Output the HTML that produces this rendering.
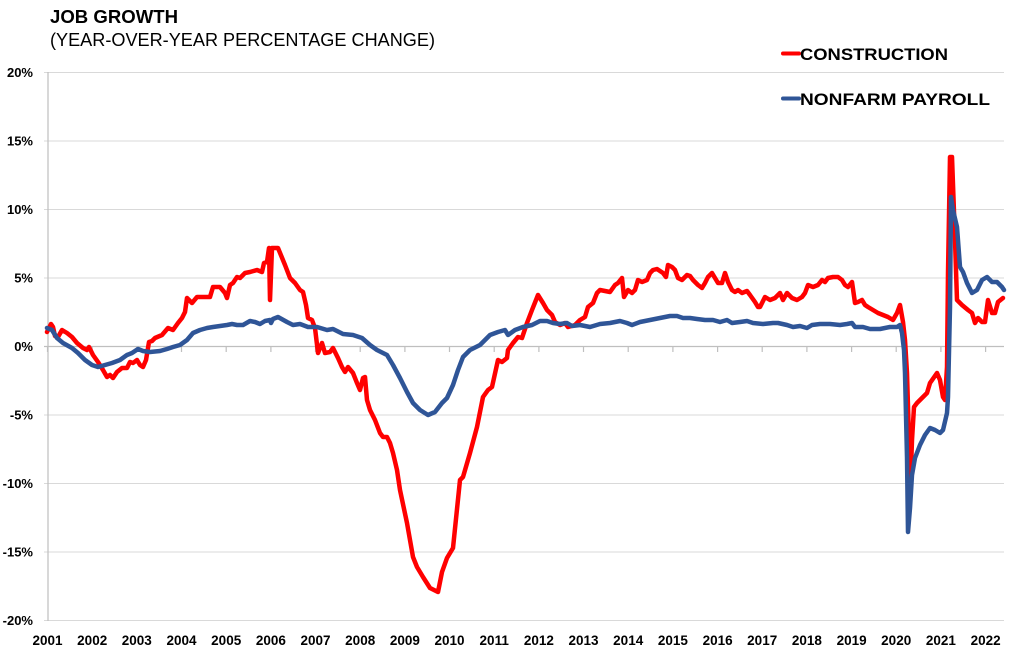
<!DOCTYPE html>
<html>
<head>
<meta charset="utf-8">
<style>
  html,body{margin:0;padding:0;background:#fff;}
  svg{display:block;}
  text{font-family:"Liberation Sans",sans-serif;fill:#000;}
</style>
</head>
<body>
<svg width="1024" height="663" viewBox="0 0 1024 663" xmlns="http://www.w3.org/2000/svg">
  <rect width="1024" height="663" fill="#fff"/>
  <!-- Titles -->
  <text x="50" y="23" font-size="18" font-weight="bold" textLength="128" lengthAdjust="spacingAndGlyphs">JOB GROWTH</text>
  <text x="50" y="46" font-size="18" textLength="385" lengthAdjust="spacingAndGlyphs">(YEAR-OVER-YEAR PERCENTAGE CHANGE)</text>

  <!-- Gridlines -->
  <g stroke="#D9D9D9" stroke-width="1">
    <line x1="44" y1="72.5" x2="1004" y2="72.5"/>
    <line x1="44" y1="141" x2="1004" y2="141"/>
    <line x1="44" y1="209.5" x2="1004" y2="209.5"/>
    <line x1="44" y1="278" x2="1004" y2="278"/>
    <line x1="44" y1="415" x2="1004" y2="415"/>
    <line x1="44" y1="483.5" x2="1004" y2="483.5"/>
    <line x1="44" y1="552" x2="1004" y2="552"/>
    <line x1="44" y1="620.5" x2="1004" y2="620.5"/>
  </g>
  <!-- Axes -->
  <g stroke="#BFBFBF" stroke-width="1.2">
    <line x1="48" y1="72" x2="48" y2="621"/>
    <line x1="44" y1="346.5" x2="1004" y2="346.5"/>
    <line x1="47.5" y1="346" x2="47.5" y2="352"/>
    <line x1="92.2" y1="346" x2="92.2" y2="352"/>
    <line x1="136.8" y1="346" x2="136.8" y2="352"/>
    <line x1="181.5" y1="346" x2="181.5" y2="352"/>
    <line x1="226.2" y1="346" x2="226.2" y2="352"/>
    <line x1="270.9" y1="346" x2="270.9" y2="352"/>
    <line x1="315.5" y1="346" x2="315.5" y2="352"/>
    <line x1="360.2" y1="346" x2="360.2" y2="352"/>
    <line x1="404.9" y1="346" x2="404.9" y2="352"/>
    <line x1="449.5" y1="346" x2="449.5" y2="352"/>
    <line x1="494.2" y1="346" x2="494.2" y2="352"/>
    <line x1="538.9" y1="346" x2="538.9" y2="352"/>
    <line x1="583.5" y1="346" x2="583.5" y2="352"/>
    <line x1="628.2" y1="346" x2="628.2" y2="352"/>
    <line x1="672.9" y1="346" x2="672.9" y2="352"/>
    <line x1="717.6" y1="346" x2="717.6" y2="352"/>
    <line x1="762.2" y1="346" x2="762.2" y2="352"/>
    <line x1="806.9" y1="346" x2="806.9" y2="352"/>
    <line x1="851.6" y1="346" x2="851.6" y2="352"/>
    <line x1="896.2" y1="346" x2="896.2" y2="352"/>
    <line x1="940.9" y1="346" x2="940.9" y2="352"/>
    <line x1="985.6" y1="346" x2="985.6" y2="352"/>
  </g>

  <!-- Y labels -->
  <g font-size="13" font-weight="bold" text-anchor="end">
    <text x="33" y="77">20%</text>
    <text x="33" y="145.5">15%</text>
    <text x="33" y="214">10%</text>
    <text x="33" y="282.5">5%</text>
    <text x="33" y="351">0%</text>
    <text x="33" y="419.5">-5%</text>
    <text x="33" y="488">-10%</text>
    <text x="33" y="556.5">-15%</text>
    <text x="33" y="625">-20%</text>
  </g>

  <!-- X labels -->
  <g font-size="13.5" font-weight="bold" text-anchor="middle">
    <text x="47.5" y="645">2001</text>
    <text x="92.2" y="645">2002</text>
    <text x="136.8" y="645">2003</text>
    <text x="181.5" y="645">2004</text>
    <text x="226.2" y="645">2005</text>
    <text x="270.9" y="645">2006</text>
    <text x="315.5" y="645">2007</text>
    <text x="360.2" y="645">2008</text>
    <text x="404.9" y="645">2009</text>
    <text x="449.5" y="645">2010</text>
    <text x="494.2" y="645">2011</text>
    <text x="538.9" y="645">2012</text>
    <text x="583.5" y="645">2013</text>
    <text x="628.2" y="645">2014</text>
    <text x="672.9" y="645">2015</text>
    <text x="717.6" y="645">2016</text>
    <text x="762.2" y="645">2017</text>
    <text x="806.9" y="645">2018</text>
    <text x="851.6" y="645">2019</text>
    <text x="896.2" y="645">2020</text>
    <text x="940.9" y="645">2021</text>
    <text x="985.6" y="645">2022</text>
  </g>

  <!-- Construction (red) -->
  <polyline fill="none" stroke="#FF0000" stroke-width="4.5" stroke-linejoin="round" stroke-linecap="round"
    points="47,332 51,324 53,327 55,336 58,337 62,330 67,333 72,337 77,343 83,348 87,350 89,347 93,355 98,362 103,370 107,377 110,375 113,378 117,372 122,368 127,368 130,362 133,363 137,360 140,365 143,367 146,360 149,342 152,341 155,338 162,335 168,328 173,330 178,323 182,318 185,312 187,298 192,303 197,297 203,297 210,297 213,287 220,287 225,293 227,298 230,285 233,283 237,277 240,278 245,273 250,272 257,270 262,272 264,263 267,262 269,248 270,300 272,248 278,248 285,265 290,278 295,283 300,290 303,292 306,305 308,318 312,320 315,328 318,353 322,343 325,353 330,352 333,348 338,358 342,367 345,372 348,367 353,373 357,383 360,390 363,378 365,377 367,400 370,410 375,420 380,433 383,437 387,437 390,443 393,453 397,470 400,490 407,523 413,557 417,567 423,577 430,588 438,592 442,572 447,558 453,548 460,480 463,477 470,453 477,427 483,397 488,390 492,387 498,360 502,362 507,358 508,350 513,343 518,337 522,338 527,323 532,310 538,295 543,303 547,310 552,315 555,322 560,325 565,323 568,327 575,325 580,320 585,317 588,307 593,303 597,293 600,290 610,292 615,285 618,283 622,278 624,297 628,290 632,293 635,290 638,280 642,282 647,280 650,273 653,270 657,269 660,271 663,273 666,277 668,265 672,267 675,270 678,278 682,280 687,275 690,276 693,280 698,285 702,288 705,283 708,277 712,273 715,278 718,283 722,283 725,273 728,282 732,290 735,292 738,290 742,293 747,291 750,295 755,302 758,307 760,307 765,297 770,300 775,298 780,293 783,300 787,293 792,298 797,300 802,297 805,293 808,285 813,287 818,285 822,280 825,282 828,278 833,277 838,277 842,280 845,285 848,287 852,282 855,303 858,302 862,300 865,305 868,307 873,310 878,313 883,315 888,317 893,320 897,313 900,305 903,322 905,340 907,373 909,440 910,497 912,440 914,407 917,403 923,397 927,393 930,383 937,373 940,380 943,397 945,400 947,367 948,273 950,157 952,157 955,240 957,300 962,305 968,310 972,313 975,323 978,318 982,322 985,322 988,300 992,313 995,313 998,302 1003,298"/>

  <!-- Nonfarm payroll (blue) -->
  <polyline fill="none" stroke="#2F5597" stroke-width="4.5" stroke-linejoin="round" stroke-linecap="round"
    points="47,328 52,330 57,338 63,343 72,348 78,353 85,360 92,365 98,367 105,365 112,363 120,360 127,355 132,353 138,349 143,351 150,352 160,351 167,349 173,347 180,345 187,340 193,333 200,330 207,328 213,327 220,326 227,325 232,324 237,325 243,325 250,321 255,322 260,324 265,321 270,320 271,323 273,319 278,317 287,322 293,325 300,324 308,327 317,327 327,330 333,329 343,334 353,335 362,338 370,345 377,350 387,355 393,365 400,378 407,392 413,403 420,410 428,415 435,412 442,403 447,398 453,385 458,370 463,357 470,350 480,345 490,335 498,332 505,330 508,335 515,330 523,327 532,325 540,321 547,321 553,323 560,324 567,323 572,326 580,325 590,327 600,324 610,323 620,321 627,323 632,325 640,322 650,320 660,318 670,316 677,316 683,318 690,318 697,319 705,320 713,320 720,322 727,320 732,323 740,322 747,321 753,323 763,324 773,323 778,323 787,325 793,327 800,326 807,328 812,325 820,324 830,324 840,325 847,324 852,323 855,327 863,327 870,329 880,329 890,327 897,327 900,325 902,333 904,350 905,373 907,457 908,532 910,508 912,475 915,458 920,445 925,435 930,428 935,430 940,433 943,430 947,413 948,397 950,307 951,197 953,210 957,227 960,267 963,272 967,283 972,293 977,290 982,280 987,277 992,282 997,282 1002,287 1004,290"/>

  <!-- Legend -->
  <line x1="783" y1="53.5" x2="799" y2="53.5" stroke="#FF0000" stroke-width="4" stroke-linecap="round"/>
  <text x="800" y="60" font-size="16.5" font-weight="bold" textLength="148" lengthAdjust="spacingAndGlyphs">CONSTRUCTION</text>
  <line x1="783" y1="98.5" x2="799" y2="98.5" stroke="#2F5597" stroke-width="4" stroke-linecap="round"/>
  <text x="800" y="105" font-size="16.5" font-weight="bold" textLength="190" lengthAdjust="spacingAndGlyphs">NONFARM PAYROLL</text>
</svg>
</body>
</html>
